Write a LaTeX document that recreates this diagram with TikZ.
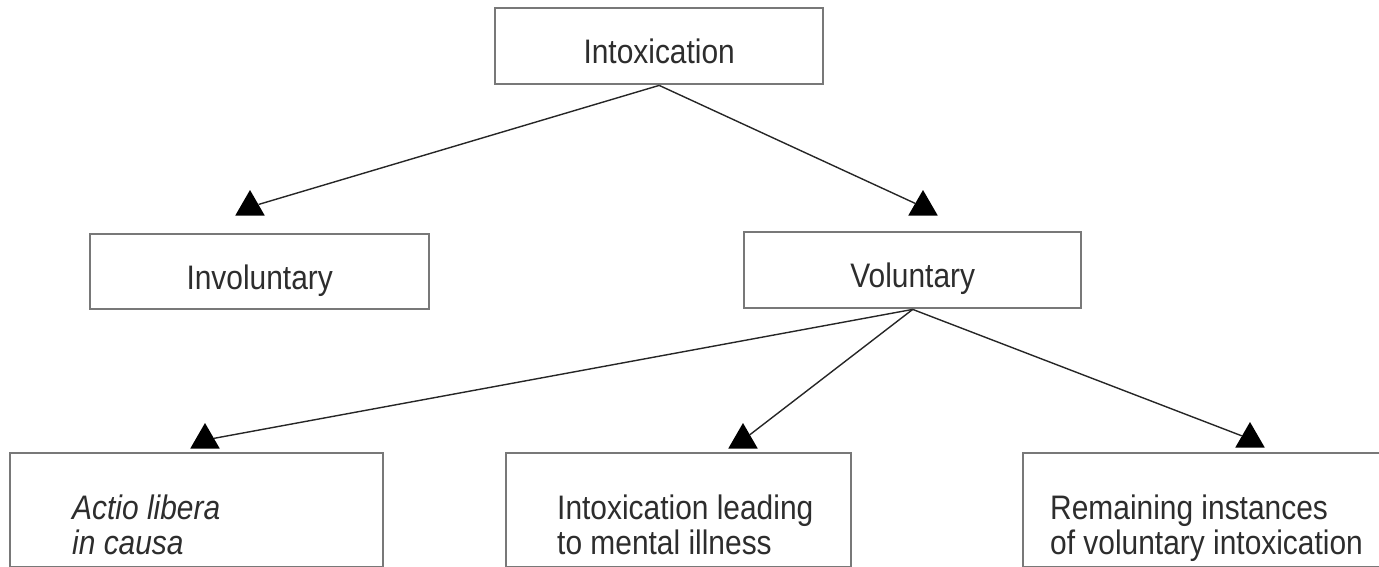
\documentclass[tikz,border=0pt]{standalone}
\usepackage{fontspec}
\setmainfont{Liberation Sans}[FakeStretch=0.88]
\usetikzlibrary{shapes.geometric}
\definecolor{boxgray}{RGB}{120,120,120}
\definecolor{txt}{RGB}{45,45,45}
\begin{document}
\begin{tikzpicture}[x=1pt,y=-1pt,
  box/.style={draw=boxgray, line width=2.4pt, inner sep=0pt, anchor=north west,
    font=\fontsize{34}{35}\selectfont, text=txt},
  mid/.style={text height=38pt, text depth=3pt},
  tri/.style={regular polygon, regular polygon sides=3, fill=black, draw=none,
    inner sep=0pt, minimum size=34pt},
  conn/.style={draw=black!85, line width=1.4pt},
  lbl/.style={anchor=base west, align=left, inner sep=0pt,
    font=\fontsize{34}{35}\selectfont, text=txt}]
\useasboundingbox (0,0) rectangle (1379,567);
% boxes
\node[box, mid, minimum width=328pt, minimum height=76pt] (intox) at (494,7) {Intoxication};
\node[box, mid, minimum width=339pt, minimum height=75pt] (invol) at (89,233) {Involuntary};
\node[box, mid, minimum width=337pt, minimum height=76pt] (vol) at (743,231) {Voluntary};
\node[box, minimum width=373pt, minimum height=114pt] (actio) at (9,452) {};
\node[box, minimum width=345pt, minimum height=114pt] (mental) at (505,452) {};
\node[box, minimum width=380pt, minimum height=114pt] (remain) at (1022,452) {};
% texts of the lower boxes
\node[lbl, font=\fontsize{34}{35}\selectfont\itshape] (actiotxt) at (72,554) {Actio libera\\in causa};
\node[lbl] (mentaltxt) at (557,554) {Intoxication leading\\to mental illness};
\node[lbl] (remaintxt) at (1050,554) {Remaining instances\\of voluntary intoxication};
% arrowheads
\node[tri] (t1) at (250,207) {};
\node[tri] (t2) at (923,207) {};
\node[tri] (t3) at (205,440) {};
\node[tri] (t4) at (743,440) {};
\node[tri] (t5) at (1250,439) {};
% connectors
\draw[conn] (intox.south) -- (t1);
\draw[conn] (intox.south) -- (t2);
\draw[conn] (vol.south) -- (t3);
\draw[conn] (vol.south) -- (t4);
\draw[conn] (vol.south) -- (t5);
\end{tikzpicture}
\end{document}
